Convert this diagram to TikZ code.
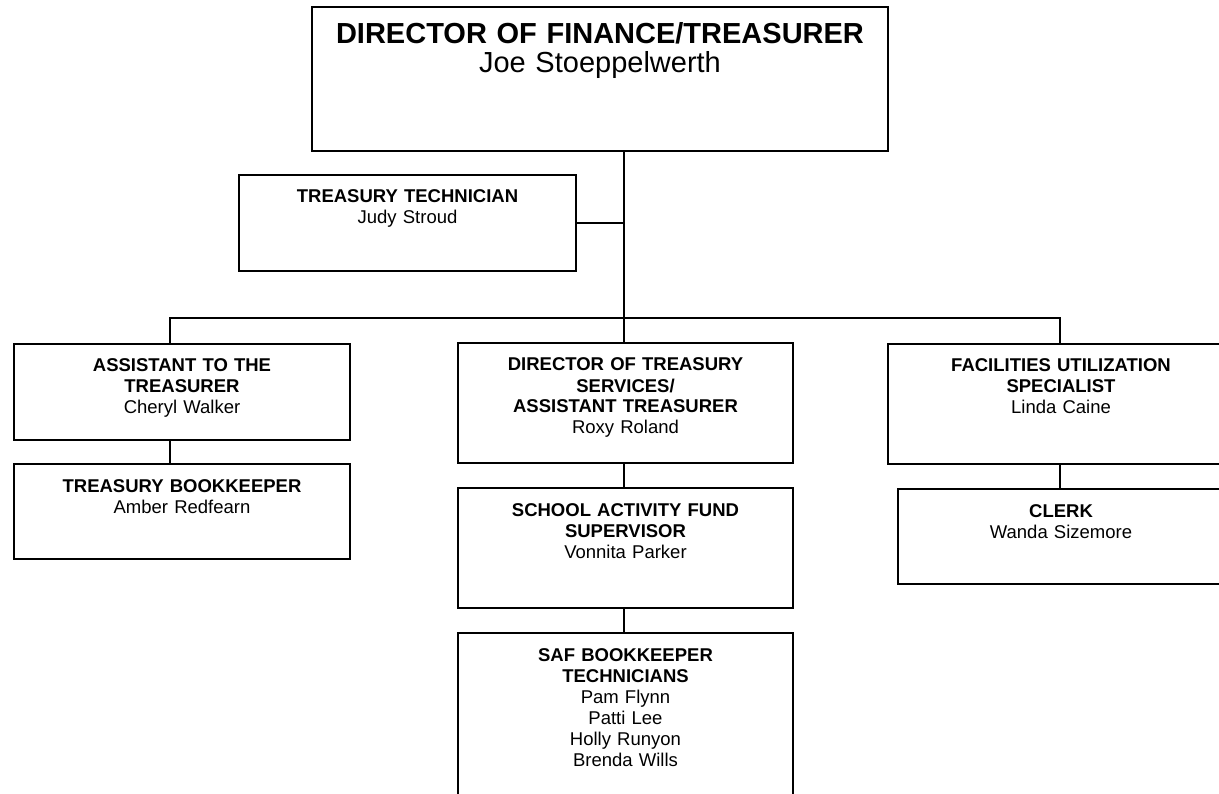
\documentclass[tikz,border=0pt]{standalone}
\usepackage{fontspec}
\setmainfont{Liberation Sans}
\usepackage{tikz}

\begin{document}
\begin{tikzpicture}[x=1pt, y=-1pt, line width=2pt]
        % Define the style for the position boxes
        \tikzstyle{orgbox}=[draw, anchor=north west, inner sep=0pt, align=center, text height=28pt, font=\fontsize{18.5}{21}\selectfont]

        \useasboundingbox (0,0) rectangle (1219,794);
        \clip (0,0) rectangle (1219,794);

        % Define the nodes
        \node[orgbox, text width=576pt, text height=37pt, text depth=107pt, font=\fontsize{29}{29}\selectfont] (fin) at (311,6) {\textbf{DIRECTOR OF FINANCE/TREASURER}\\Joe Stoeppelwerth};
        \node[orgbox, text width=337pt, text depth=68pt] (tech) at (238,174) {\textbf{TREASURY TECHNICIAN}\\Judy Stroud};
        \node[orgbox, text width=336pt, text depth=68pt] (asst) at (13,343) {\textbf{ASSISTANT TO THE}\\\textbf{TREASURER}\\Cheryl Walker};
        \node[orgbox, text width=336pt, text depth=67pt] (bkpr) at (13,463) {\textbf{TREASURY BOOKKEEPER}\\Amber Redfearn};
        \node[orgbox, text width=335pt, text depth=92pt] (dts) at (457,342) {\textbf{DIRECTOR OF TREASURY}\\\textbf{SERVICES/}\\\textbf{ASSISTANT TREASURER}\\Roxy Roland};
        \node[orgbox, text width=335pt, text depth=92pt] (safsup) at (457,487) {\textbf{SCHOOL ACTIVITY FUND}\\\textbf{SUPERVISOR}\\Vonnita Parker};
        \node[orgbox, text width=335pt, text depth=142pt] (safbk) at (457,632) {\textbf{SAF BOOKKEEPER}\\\textbf{TECHNICIANS}\\Pam Flynn\\Patti Lee\\Holly Runyon\\Brenda Wills};
        \node[orgbox, text width=346pt, text depth=92pt] (fac) at (887,343) {\textbf{FACILITIES UTILIZATION}\\\textbf{SPECIALIST}\\Linda Caine};
        \node[orgbox, text width=326pt, text depth=67pt] (clerk) at (897,488) {\textbf{CLERK}\\Wanda Sizemore};

        % Define the bus points
        \coordinate (bus) at (624,318);
        \coordinate (busL) at (170,318);
        \coordinate (busR) at (1060,318);

        % Define the connectors
        \draw (fin.south -| bus) -- (bus);
        \draw (tech.east) -- (tech.east -| bus);
        \draw (busL |- asst.north) -- (busL) -- (busR) -- (busR |- fac.north);
        \draw (bus) -- (bus |- dts.north);
        \draw (busL |- asst.south) -- (busL |- bkpr.north);
        \draw (bus |- dts.south) -- (bus |- safsup.north);
        \draw (bus |- safsup.south) -- (bus |- safbk.north);
        \draw (busR |- fac.south) -- (busR |- clerk.north);
    \end{tikzpicture}
\end{document}
